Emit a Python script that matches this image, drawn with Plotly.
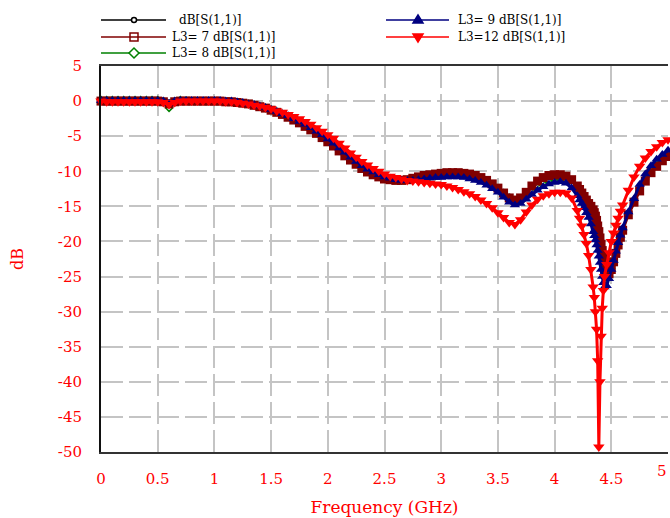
import plotly.graph_objects as go

# ---------------- data ----------------
freq_ghz = [
    0.00, 0.05, 0.10, 0.15, 0.20, 0.25, 0.30, 0.35, 0.40, 0.45,
    0.50, 0.55, 0.60, 0.65, 0.70, 0.75, 0.80, 0.85, 0.90, 0.95,
    1.00, 1.05, 1.10, 1.15, 1.20, 1.25, 1.30, 1.35, 1.40, 1.45,
    1.50, 1.55, 1.60, 1.65, 1.70, 1.75, 1.80, 1.85, 1.90, 1.95,
    2.00, 2.05, 2.10, 2.15, 2.20, 2.25, 2.30, 2.35, 2.40, 2.45,
    2.50, 2.55, 2.60, 2.65, 2.70, 2.75, 2.80, 2.85, 2.90, 2.95,
    3.00, 3.05, 3.10, 3.15, 3.20, 3.25, 3.30, 3.35, 3.40, 3.45,
    3.50, 3.55, 3.60, 3.65, 3.70, 3.75, 3.80, 3.85, 3.90, 3.95,
    4.00, 4.05, 4.10, 4.15, 4.20,
    4.22, 4.24, 4.26, 4.28, 4.30, 4.32, 4.34, 4.35, 4.36, 4.37,
    4.38, 4.39, 4.40, 4.41, 4.42, 4.43, 4.44, 4.46, 4.48, 4.50,
    4.52, 4.54, 4.56, 4.58, 4.60,
    4.65, 4.70, 4.75, 4.80, 4.85, 4.90, 4.95, 5.00,
]

s11_base = [
    0.0, 0.0, 0.0, 0.0, 0.0, 0.0, 0.0, 0.0, 0.0, 0.0,
    0.0, -0.1, -0.4, -0.1, 0.0, 0.0, 0.0, 0.0, 0.0, 0.0,
    0.0, 0.0, -0.1, -0.1, -0.2, -0.3, -0.4, -0.6, -0.8, -1.0,
    -1.3, -1.6, -1.9, -2.3, -2.7, -3.1, -3.6, -4.1, -4.6, -5.2,
    -5.8, -6.4, -7.1, -7.8, -8.4, -9.0, -9.6, -10.1, -10.5, -10.8,
    -11.1, -11.2, -11.3, -11.3, -11.2, -11.0, -10.9, -10.7, -10.6, -10.5,
    -10.4, -10.3, -10.3, -10.3, -10.3, -10.4, -10.6, -10.9, -11.3, -11.7,
    -12.2, -12.8, -13.5, -13.9, -13.7, -13.0, -12.2, -11.6, -11.1, -10.8,
    -10.6, -10.5, -10.7, -11.2, -12.1,
    -12.8, -13.5, -14.2, -14.8, -15.3, -15.8, -16.4, -16.8, -17.3, -17.9,
    -18.6, -19.4, -20.3, -21.2, -22.0, -22.8, -23.5, -24.4, -24.8, -24.1,
    -23.0, -21.8, -20.6, -19.5, -18.5,
    -16.3, -14.5, -12.9, -11.5, -10.3, -9.4, -8.6, -8.0,
]

s11_l3_7 = [
    0.0, 0.0, 0.0, 0.0, 0.0, 0.0, 0.0, 0.0, 0.0, 0.0,
    0.0, -0.1, -0.4, -0.1, 0.0, 0.0, 0.0, 0.0, 0.0, 0.0,
    0.0, 0.0, -0.1, -0.1, -0.2, -0.3, -0.4, -0.6, -0.8, -1.0,
    -1.3, -1.6, -1.9, -2.3, -2.7, -3.1, -3.6, -4.1, -4.6, -5.2,
    -5.8, -6.4, -7.1, -7.8, -8.4, -9.0, -9.6, -10.1, -10.5, -10.8,
    -11.1, -11.2, -11.3, -11.3, -11.2, -11.0, -10.8, -10.6, -10.5, -10.4,
    -10.3, -10.2, -10.2, -10.2, -10.3, -10.4, -10.6, -10.9, -11.3, -11.8,
    -12.4, -13.1, -13.8, -14.1, -13.8, -13.0, -12.1, -11.4, -10.9, -10.6,
    -10.5, -10.5, -10.7, -11.2, -12.1,
    -12.6, -13.1, -13.6, -14.1, -14.6, -15.0, -15.5, -15.9, -16.4, -17.0,
    -17.8, -18.6, -19.5, -20.4, -21.3, -22.1, -22.9, -24.0, -24.6, -24.0,
    -22.9, -21.7, -20.5, -19.4, -18.4,
    -16.2, -14.4, -12.8, -11.4, -10.2, -9.3, -8.5, -7.9,
]

s11_l3_8 = [
    0.2, 0.2, 0.2, 0.2, 0.2, 0.2, 0.2, 0.2, 0.2, 0.2,
    0.2, 0.0, -1.0, 0.0, 0.2, 0.1, 0.0, 0.0, 0.0, 0.0,
    0.0, 0.0, -0.1, -0.1, -0.2, -0.3, -0.4, -0.6, -0.8, -1.0,
    -1.2, -1.5, -1.8, -2.2, -2.6, -3.0, -3.4, -3.9, -4.4, -5.0,
    -5.6, -6.2, -6.9, -7.5, -8.2, -8.8, -9.4, -9.9, -10.3, -10.6,
    -10.9, -11.1, -11.2, -11.3, -11.2, -11.1, -11.0, -10.9, -10.8, -10.7,
    -10.6, -10.5, -10.5, -10.5, -10.6, -10.7, -10.9, -11.2, -11.6, -12.1,
    -12.6, -13.2, -13.8, -14.2, -14.1, -13.5, -12.8, -12.2, -11.7, -11.4,
    -11.2, -11.1, -11.3, -11.9, -12.8,
    -13.3, -13.9, -14.5, -15.1, -15.6, -16.2, -17.0, -17.5, -18.0, -18.7,
    -19.5, -20.3, -21.2, -22.1, -23.0, -23.8, -24.6, -25.2, -25.0, -23.9,
    -22.7, -21.5, -20.3, -19.2, -18.2,
    -16.0, -14.1, -12.5, -11.1, -9.9, -8.9, -8.1, -7.4,
]

s11_l3_9 = [
    0.1, 0.1, 0.1, 0.1, 0.1, 0.1, 0.1, 0.1, 0.1, 0.1,
    0.1, 0.0, -0.3, 0.0, 0.1, 0.1, 0.1, 0.1, 0.1, 0.1,
    0.1, 0.1, 0.0, 0.0, -0.1, -0.2, -0.4, -0.5, -0.7, -0.9,
    -1.2, -1.5, -1.8, -2.1, -2.5, -2.9, -3.3, -3.8, -4.3, -4.8,
    -5.4, -6.0, -6.7, -7.3, -8.0, -8.6, -9.2, -9.7, -10.1, -10.5,
    -10.8, -11.0, -11.2, -11.3, -11.3, -11.3, -11.2, -11.1, -11.0, -10.9,
    -10.9, -10.8, -10.8, -10.8, -10.9, -11.1, -11.3, -11.6, -12.0, -12.5,
    -13.0, -13.7, -14.4, -14.8, -14.6, -14.0, -13.3, -12.7, -12.2, -11.8,
    -11.6, -11.5, -11.7, -12.4, -13.5,
    -14.1, -14.6, -15.2, -15.9, -16.6, -17.5, -18.6, -19.2, -19.8, -20.5,
    -21.3, -22.1, -23.0, -24.0, -25.0, -25.9, -26.5, -26.3, -25.3, -24.0,
    -22.7, -21.4, -20.2, -19.1, -18.1,
    -15.8, -13.9, -11.9, -10.4, -9.2, -8.3, -7.6, -7.0,
]

s11_l3_12 = [
    0.0, -0.1, -0.1, -0.1, -0.1, -0.1, -0.1, -0.1, -0.1, -0.1,
    -0.1, -0.2, -0.5, -0.2, 0.0, 0.0, 0.0, 0.0, 0.0, 0.0,
    0.0, 0.0, -0.1, -0.1, -0.2, -0.3, -0.4, -0.6, -0.7, -0.9,
    -1.1, -1.4, -1.6, -1.9, -2.2, -2.5, -2.9, -3.3, -3.8, -4.3,
    -4.8, -5.3, -6.0, -6.7, -7.4, -8.0, -8.6, -9.1, -9.6, -10.0,
    -10.4, -10.7, -10.9, -11.1, -11.3, -11.4, -11.5, -11.6, -11.7, -11.8,
    -11.9, -12.1, -12.3, -12.6, -12.9, -13.2, -13.6, -14.1, -14.6, -15.2,
    -15.9, -16.6, -17.3, -17.6, -16.9, -15.8, -14.8, -14.0, -13.5, -13.2,
    -13.0, -13.0, -13.1, -13.8, -15.6,
    -16.7, -17.8, -19.0, -20.3, -22.0, -24.0, -26.5, -28.0, -30.0, -32.5,
    -37.0, -49.3, -40.0, -33.5, -29.5, -27.0, -25.0, -23.3, -21.6, -20.0,
    -18.8, -17.7, -16.7, -15.7, -14.8,
    -12.7, -10.8, -9.3, -8.1, -7.2, -6.5, -5.9, -5.5,
]

# the last x label ("5") sits at the window edge; it is drawn right-aligned below
x_tick_vals = [0, 0.5, 1, 1.5, 2, 2.5, 3, 3.5, 4, 4.5, 5]
x_tick_text = ["0", "0.5", "1", "1.5", "2", "2.5", "3", "3.5", "4", "4.5", ""]
x_last_label = "5"
y_tick_vals = [5, 0, -5, -10, -15, -20, -25, -30, -35, -40, -45, -50]
y_tick_text = ["5", "0", "-5", "-10", "-15", "-20", "-25", "-30", "-35", "-40", "-45", "-50"]

legend_labels = ["dB[S(1,1)]", "L3=\u00a07 dB[S(1,1)]", "L3=\u00a08 dB[S(1,1)]",
                 "L3=\u00a09 dB[S(1,1)]", "L3=12 dB[S(1,1)]"]

# ---------------- figure ----------------
FONT = "DejaVu Serif"
W, H = 670, 518
ML, MR, MT, MB = 101, 2, 66, 66
PW, PH = W - ML - MR, H - MT - MB


def px_x(px):
    return (px - ML) / PW


def px_y(py):
    return (H - MB - py) / PH


fig = go.Figure()

# name, y, colour, plot symbol, size, line width
series = [
    (legend_labels[2], s11_l3_8, "#008000", "diamond-open", 5, 1),
    (legend_labels[0], s11_base, "#000000", "circle-open", 3, 1),
    (legend_labels[1], s11_l3_7, "#800000", "square", 9, 3),
    (legend_labels[3], s11_l3_9, "#000080", "triangle-up", 9, 3),
    (legend_labels[4], s11_l3_12, "#FF0000", "triangle-down", 10, 3),
]

for name, y, col, sym, size, lw in series:
    fig.add_trace(go.Scatter(
        x=freq_ghz, y=y, name=name, mode="lines+markers",
        line=dict(color=col, width=lw),
        marker=dict(symbol=sym, size=size, color=col,
                    line=dict(color=col, width=1.5 if "open" in sym else 0)),
        cliponaxis=False, showlegend=False,
    ))

# ---------------- hand-drawn legend (two columns) ----------------
shapes = []
annotations = []
# (label index, colour, marker kind, line x0, line x1, marker x, text x, row y)
legend_items = [
    (0, "#000000", "circle", 101, 166, 134, 177, 20),
    (1, "#800000", "square", 101, 166, 134, 170, 37),
    (2, "#008000", "diamond", 101, 166, 134, 170, 53),
    (3, "#000080", "tri_up", 386, 449, 418, 456, 20),
    (4, "#FF0000", "tri_down", 386, 449, 418, 456, 37),
]
marker_paths = {
    "square": "M-4,-4 L4,-4 L4,4 L-4,4 Z M-4,0 L4,0",
    "diamond": "M0,-5 L5,0 L0,5 L-5,0 Z",
    "tri_up": "M-5,-3 L5,-3 L0,5 Z",
    "tri_down": "M-5,3 L5,3 L0,-5 Z",
}
for idx, col, kind, lx0, lx1, mx, tx, ry in legend_items:
    shapes.append(dict(type="line", xref="paper", yref="paper",
                       x0=px_x(lx0), x1=px_x(lx1), y0=px_y(ry), y1=px_y(ry),
                       line=dict(color=col, width=1.5)))
    if kind == "circle":
        shapes.append(dict(type="circle", xref="paper", yref="paper",
                           xsizemode="pixel", ysizemode="pixel",
                           xanchor=px_x(mx), yanchor=px_y(ry),
                           x0=-2.5, x1=2.5, y0=-2.5, y1=2.5,
                           line=dict(color=col, width=1.5), fillcolor="white"))
    else:
        filled = kind.startswith("tri")
        shapes.append(dict(type="path", xref="paper", yref="paper",
                           xsizemode="pixel", ysizemode="pixel",
                           xanchor=px_x(mx), yanchor=px_y(ry),
                           path=marker_paths[kind],
                           line=dict(color=col, width=1.5),
                           fillcolor=col if filled else "white"))
    annotations.append(dict(text=legend_labels[idx], xref="paper", yref="paper",
                            x=px_x(tx), y=px_y(ry), xanchor="left", yanchor="middle",
                            showarrow=False,
                            font=dict(family=FONT, size=12, color="#000000")))

# last x tick label, kept inside the window
annotations.append(dict(text=x_last_label, xref="paper", yref="paper",
                        x=px_x(669), y=px_y(471), xanchor="right", yanchor="middle",
                        showarrow=False, font=dict(family=FONT, size=15, color="#FF0000")))

grid_col = "#C4C4C4"
fig.update_xaxes(
    range=[0, 5], tickvals=x_tick_vals, ticktext=x_tick_text,
    showgrid=True, gridcolor=grid_col, gridwidth=2, griddash="22px,6px",
    showline=True, linecolor="#333333", linewidth=2, mirror=True,
    ticks="", ticklabelstandoff=12, zeroline=False,
    automargin=False,
    tickfont=dict(family=FONT, size=15, color="#FF0000"),
    title=dict(text="Frequency (GHz)", font=dict(family=FONT, size=17, color="#FF0000"),
               standoff=14),
)
fig.update_yaxes(
    range=[-50, 5], tickvals=y_tick_vals, ticktext=y_tick_text,
    showgrid=True, gridcolor=grid_col, gridwidth=2, griddash="22px,6px",
    showline=True, linecolor="#111111", linewidth=2, mirror=False,
    ticks="", ticklabelstandoff=14, zeroline=False, automargin=False,
    tickfont=dict(family=FONT, size=15, color="#FF0000"),
    title=dict(text="dB", font=dict(family=FONT, size=16, color="#FF0000"), standoff=30),
)

fig.update_layout(
    width=W, height=H,
    margin=dict(l=ML, r=MR, t=MT, b=MB, autoexpand=False),
    paper_bgcolor="white", plot_bgcolor="white",
    showlegend=False,
    shapes=shapes, annotations=annotations,
)

fig.write_html("out.html")
